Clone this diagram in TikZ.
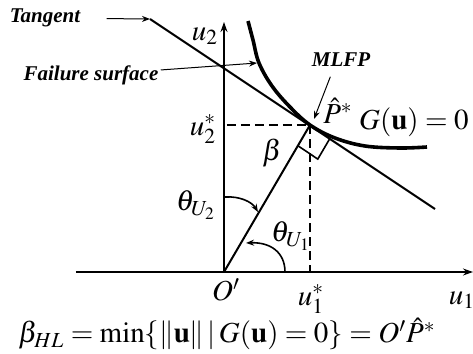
\documentclass[tikz,border=0pt]{standalone}
\usepackage{amsmath,amssymb}
\usepackage{mathptmx}
\usepackage[no-math]{fontspec}
\setmainfont{Liberation Serif}
\usetikzlibrary{arrows.meta, calc}

\begin{document}
\begin{tikzpicture}[x=0.5pt, y=-0.5pt,
    lbl/.style={font=\fontsize{14.5}{17}\selectfont, inner sep=1pt},
    tag/.style={font=\fontsize{10.5}{12}\selectfont\bfseries\itshape, inner sep=1pt},
    axis/.style={-{Stealth[length=5pt, width=3.5pt]}, line width=0.6pt},
    arrow/.style={-{Stealth[length=4pt, width=3pt]}, line width=0.5pt},
    guide/.style={line width=1.2pt, dash pattern=on 4.5pt off 2.5pt}
]
    \useasboundingbox (0,0) rectangle (473,354);
    \coordinate (O) at (224,272);
    \coordinate (P) at (310,125);
    \coordinate (xstart) at (76,272);
    \coordinate (xend) at (473,272);
    \coordinate (yend) at (224,22);
    \coordinate (tanA) at (150,19);
    \coordinate (tanB) at (435,209);
    \coordinate (u2foot) at (227,125);
    \coordinate (u1foot) at (310,272);
    \coordinate (fsTip) at (257,63);
    \coordinate (mlfpTip) at (314,119);
    \coordinate (th2a) at (225,197);
    \coordinate (th2b) at (258,212);
    \coordinate (th1a) at (285,272);
    \coordinate (th1b) at (246,243);

    \draw[axis] (xstart) -- (xend);
    \draw[axis] (O) -- (yend);
    \draw[line width=1pt] (tanA) -- (tanB);
    \draw[line width=1.8pt] plot[smooth, tension=0.6] coordinates
        {(248,21) (253,40) (259,63) (272,86) (290,107) (310,125) (335,138) (365,146) (400,148) (427,147)};
    \draw[line width=1pt] (O) -- (P);
    \draw[guide] (u2foot) -- (P);
    \draw[guide] (P) -- (u1foot);

    \coordinate (ra1) at ($(P)!12pt!(O)$);
    \coordinate (ra3) at ($(P)!12pt!(tanB)$);
    \draw[line width=0.8pt] (ra1) -- ($(ra1)+(ra3)-(P)$) -- (ra3);

    \draw[arrow, line width=0.8pt] (th2a) .. controls (240,196) and (252,202) .. (th2b);
    \draw[arrow, line width=0.8pt] (th1a) .. controls (285,252) and (270,242) .. (th1b);

    \node[tag] (tangent) at (45,18) {Tangent};
    \draw[arrow, shorten <=12pt] (tangent) -- (tanA);
    \node[tag] (failure) at (91,75) {Failure surface};
    \draw[arrow] (failure) -- (fsTip);
    \node[tag] (mlfp) at (341,60) {MLFP};
    \draw[arrow, shorten <=4pt] (mlfp.230) -- (mlfpTip);

    \node[lbl] (u2) at (205,36) {$u_2$};
    \node[lbl] (u2star) at (203,129) {$u_2^*$};
    \node[lbl] (u1) at (462,300) {$u_1$};
    \node[lbl] (u1star) at (311,299) {$u_1^*$};
    \node[lbl] (origin) at (226,290) {$O'$};
    \node[lbl] (phat) at (338,111) {$\hat{P}^*$};
    \node[lbl, anchor=east] (limit) at (471,122) {$G(\mathbf{u})=0$};
    \node[lbl] (beta) at (272,153) {$\beta$};
    \node[lbl] (th2) at (196,205) {$\theta_{U_2}$};
    \node[lbl] (th1) at (291,236) {$\theta_{U_1}$};
    \node[lbl, anchor=west] (hl) at (16,334) {$\beta_{HL}=\min\{\|\mathbf{u}\|\,|\,G(\mathbf{u})=0\}=O'\hat{P}^*$};
\end{tikzpicture}
\end{document}
